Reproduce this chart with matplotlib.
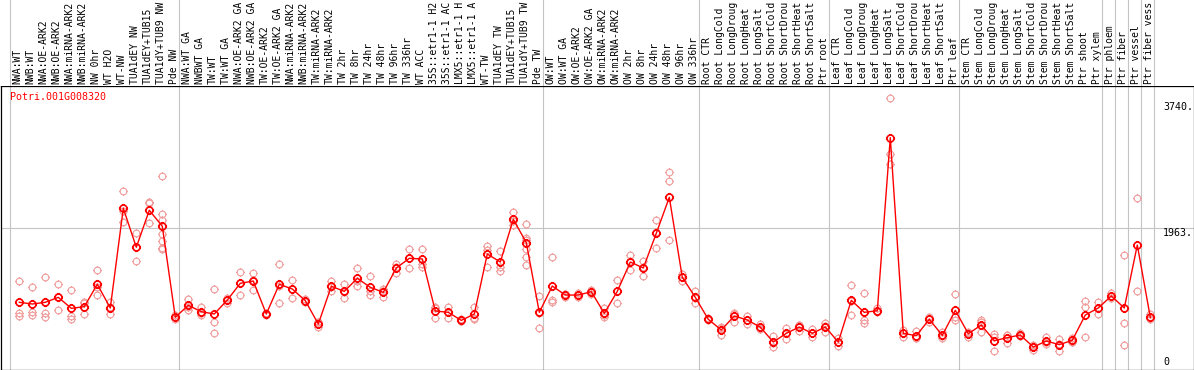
import matplotlib
matplotlib.use("Agg")
import matplotlib.pyplot as plt
from matplotlib.path import Path
from matplotlib import transforms

labels = [
    "NWA:WT", "NWB:WT", "NWA:OE-ARK2", "NWB:OE-ARK2", "NWA:miRNA-ARK2", "NWB:miRNA-ARK2",
    "NW 0hr", "WT H2O", "WT-NW", "TUA1dEY NW", "TUA1dEY+TUB15", "TUA1dY+TUB9 NW", "Pde NW",
    "NWA:WT GA", "NWBWT GA", "TW:WT", "TW:WT GA", "NWA:OE-ARK2 GA", "NWB:OE-ARK2 GA",
    "TW:OE-ARK2", "TW:OE-ARK2 GA", "NWA:miRNA-ARK2", "NWB:miRNA-ARK2", "TW:miRNA-ARK2",
    "TW:miRNA-ARK2", "TW 2hr", "TW 8hr", "TW 24hr", "TW 48hr", "TW 96hr", "TW 336hr",
    "WT ACC", "35S::etr1-1 H2", "35S::etr1-1 AC", "LMX5::etr1-1 H", "LMX5::etr1-1 A",
    "WT-TW", "TUA1dEY TW", "TUA1dEY+TUB15", "TUA1dY+TUB9 TW", "Pde TW",
    "OW:WT", "OW:WT GA", "OW:OE-ARK2", "OW:OE-ARK2 GA", "OW:miRNA-ARK2", "OW:miRNA-ARK2",
    "OW 2hr", "OW 8hr", "OW 24hr", "OW 48hr", "OW 96hr", "OW 336hr",
    "Root CTR", "Root LongCold", "Root LongDroug", "Root LongHeat", "Root LongSalt",
    "Root ShortCold", "Root ShortDrou", "Root ShortHeat", "Root ShortSalt", "Ptr root",
    "Leaf CTR", "Leaf LongCold", "Leaf LongDroug", "Leaf LongHeat", "Leaf LongSalt",
    "Leaf ShortCold", "Leaf ShortDrou", "Leaf ShortHeat", "Leaf ShortSalt", "Ptr leaf",
    "Stem CTR", "Stem LongCold", "Stem LongDroug", "Stem LongHeat", "Stem LongSalt",
    "Stem ShortCold", "Stem ShortDrou", "Stem ShortHeat", "Stem ShortSalt", "Ptr shoot",
    "Ptr xylem", "Ptr phloem", "Ptr fiber", "Ptr vessel", "Ptr fiber vess",
]

means = [
    923, 899, 923, 993, 838, 862, 1176, 843, 2244, 1696, 2216, 1991, 712,
    881, 791, 759, 955, 1190, 1222, 759, 1176, 1110, 946, 618, 1148, 1077, 1260, 1134,
    1063, 1405, 1541, 1532, 801, 782, 669, 759, 1602, 1489, 2089, 1761, 782,
    1152, 1025, 1025, 1072, 768, 1077, 1489, 1405, 1893, 2398, 1274, 993,
    684, 534, 731, 674, 574, 365, 487, 576, 487, 576,
    365, 951, 782, 805, 3236, 487, 454, 684, 459, 810,
    482, 604, 384, 426, 464, 295, 379, 328, 389, 745,
    843, 1012, 843, 1728, 712,
]

replicates = [
    [1227, 777, 731], [1138, 791, 745], [1274, 777, 721], [1176, 993, 810],
    [1096, 731, 684], [923, 908, 754], [1372, 1142, 1025], [923, 852, 754],
    [2483, 2200, 2056], [1893, 1696, 1499], [2337, 2314, 2033],
    [2698, 2164, 2079, 1887, 1784, 1690, 1672], [740, 712, 690],
    [969, 862, 810], [852, 777, 745], [1110, 642, 487], [979, 955, 909],
    [1353, 1195, 1021], [1335, 1240, 1092], [777, 759, 740], [1461, 1158, 909],
    [1236, 1115, 979], [970, 940, 930], [642, 640, 572], [1218, 1145, 1082],
    [1180, 1063, 988], [1405, 1218, 1157], [1293, 1088, 1021], [1110, 1082, 997],
    [1461, 1420, 1335], [1672, 1550, 1400], [1672, 1461, 1424], [862, 843, 698],
    [862, 787, 698], [690, 660, 660], [862, 698, 684], [1714, 1658, 1424],
    [1644, 1424, 1367], [2187, 2070, 2009], [2019, 1822, 1798, 1672, 1555, 1443],
    [1012, 776, 558],
    [1555, 955, 932], [1040, 1035, 1000], [1050, 1025, 1000], [1100, 1075, 1040],
    [838, 750, 716], [1236, 1086, 909], [1588, 1508, 1372], [1503, 1415, 1297],
    [2079, 1910, 1690], [2749, 2632, 1794], [1321, 1280, 1222], [1082, 990, 909],
    [698, 684, 670], [580, 558, 464], [777, 765, 651], [731, 674, 618],
    [623, 560, 548], [450, 345, 300], [567, 487, 407], [610, 600, 520],
    [544, 487, 431], [628, 590, 510],
    [417, 365, 313], [1162, 946, 745], [1049, 674, 628], [838, 795, 782],
    [3789, 3003, 2870], [534, 487, 440], [520, 425, 417], [716, 684, 651],
    [510, 450, 417], [1035, 720, 674],
    [510, 495, 440], [669, 642, 501], [482, 430, 239], [459, 470, 347],
    [487, 456, 449], [323, 310, 253], [431, 370, 337], [407, 335, 243],
    [426, 370, 370], [941, 852, 431],
    [932, 843, 754], [1049, 1012, 979], [1583, 628, 318], [2384, 1077], [754, 698, 684],
]

group_starts = [0, 13, 41, 53, 63, 73, 84, 85, 86, 87, 88]
gene_name = "Potri.001G008320"
axis_labels = ["3740.", "1963.", "0"]
axis_values = [3740, 1963, 0]
grid_value = 1963

W, H = 1194, 370
fig = plt.figure(figsize=(W / 100, H / 100), dpi=100)
ax = fig.add_axes([0.5 / W, 0.5 / H, 1193 / W, 284 / H])
axh = fig.add_axes([0.5 / W, 284.5 / H, 1193 / W, 85.5 / H], sharex=ax)

xl = (0.5 - 19.3) / 13
xr = (1193.5 - 19.3) / 13
ax.set_xlim(xl, xr)
ax.set_ylim(-21, 3969)
axh.set_ylim(0, 1)
for a in (ax, axh):
    a.set_xticks([])
    a.set_yticks([])
for s in axh.spines.values():
    s.set_visible(False)
for s in ax.spines.values():
    s.set_color("black")
    s.set_linewidth(0.9)

grid_c = "#c4c4c4"
for k in group_starts:
    xb = k - 0.677
    ax.axvline(xb, color=grid_c, lw=0.8, zorder=1)
    axh.axvline(xb, color=grid_c, lw=0.8, zorder=1)
ax.axhline(grid_value, color=grid_c, lw=0.8, zorder=1)

# marker: circle with small ticks
circ = Path.unit_circle()
tk = 1.32
tick_paths = [Path([(0, 1), (0, tk)], [Path.MOVETO, Path.LINETO]),
              Path([(0, -1), (0, -tk)], [Path.MOVETO, Path.LINETO]),
              Path([(1, 0), (tk, 0)], [Path.MOVETO, Path.LINETO]),
              Path([(-1, 0), (-tk, 0)], [Path.MOVETO, Path.LINETO])]
mk = Path.make_compound_path(circ, *tick_paths)

rx, ry = [], []
for i, reps in enumerate(replicates):
    for v in reps:
        rx.append(i)
        ry.append(v)
ax.plot(rx, ry, linestyle="none", marker=mk, ms=6.4, mec="#f09c9c", mfc="none",
        mew=0.8, zorder=2)
xs = list(range(len(means)))
ax.plot(xs, means, color="red", lw=1.0, zorder=3)
ax.plot(xs, means, linestyle="none", marker=mk, ms=6.6, mec="red", mfc="none",
        mew=1.2, zorder=4)

mono = "DejaVu Sans Mono"
fs = 7.2
tr_h = transforms.blended_transform_factory(axh.transData, axh.transAxes)
for i, lab in enumerate(labels):
    axh.text(i - 0.12, 1.5 / 85.5, lab, rotation=90, ha="center", va="bottom",
             family=mono, fontsize=7.0, color="black", transform=tr_h, clip_on=False)

ax.text(9.5 / 1193, 1 - 11.5 / 284, gene_name, color="red", family=mono, fontsize=fs,
        ha="left", va="center", transform=ax.transAxes)

tr_r = transforms.blended_transform_factory(ax.transAxes, ax.transData)
for lab, v in zip(axis_labels, axis_values):
    ax.text((1163 - 0.5) / 1193, v + (15 if v == 0 else 0), lab, family=mono, fontsize=fs,
            ha="left", va="bottom" if v == 0 else "top", color="black", transform=tr_r)

fig.savefig("out.png", dpi=100)
